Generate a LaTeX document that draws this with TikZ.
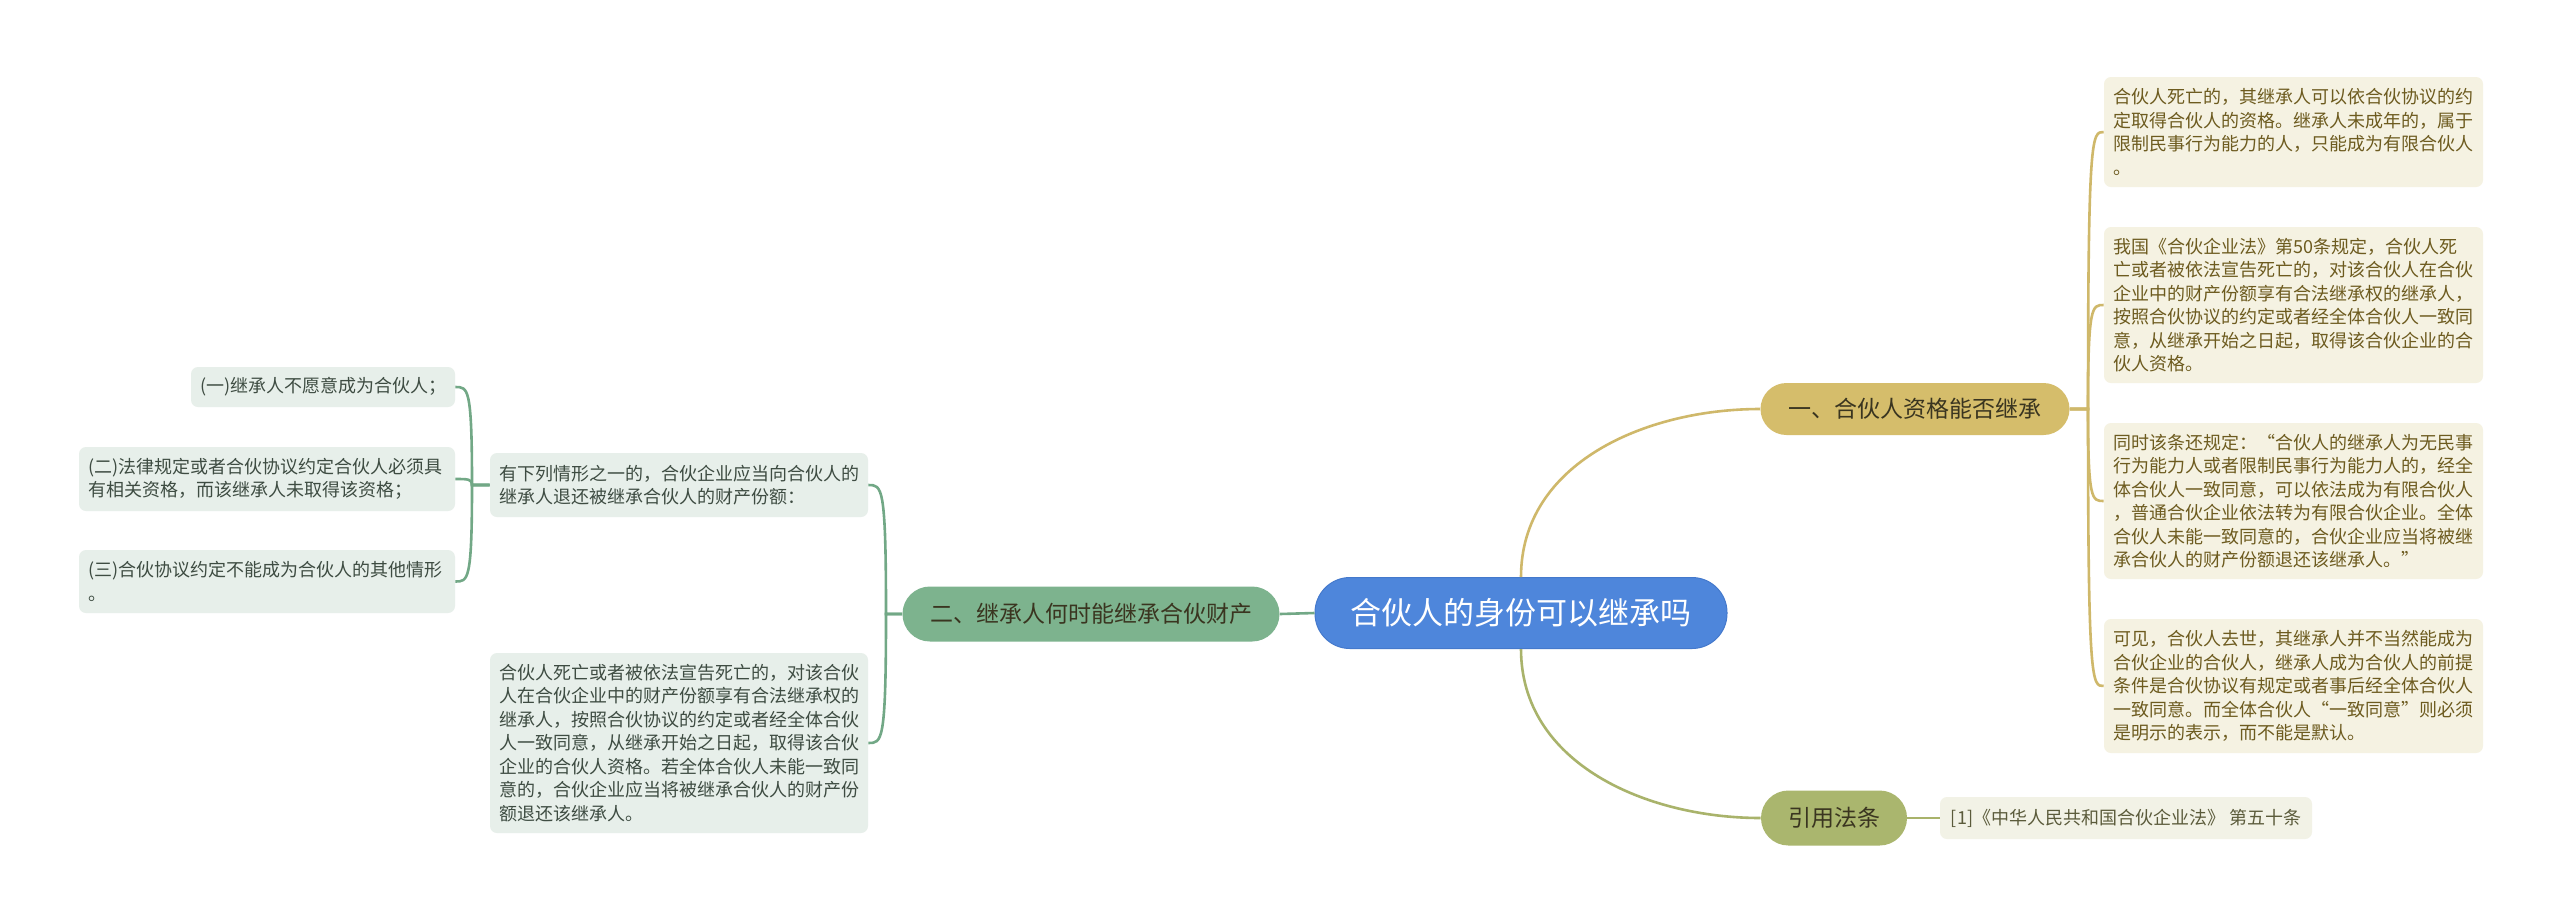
\documentclass[tikz,border=0pt]{standalone}
\usepackage{fontspec}
\setmainfont{Noto Sans CJK SC}
\usetikzlibrary{calc}
\definecolor{cblue}{HTML}{4E86DB}
\definecolor{cblueb}{HTML}{4479CC}
\definecolor{bgold}{HTML}{D5BD6B}
\definecolor{bolive}{HTML}{AAB66E}
\definecolor{bgreen}{HTML}{7DB38E}
\definecolor{rfill}{HTML}{F5F2E2}
\definecolor{rtext}{HTML}{6D5B1F}
\definecolor{reffill}{HTML}{F2F2E6}
\definecolor{reftext}{HTML}{5B5B3B}
\definecolor{lfill}{HTML}{E7EFEA}
\definecolor{ltext}{HTML}{3E4C42}
\definecolor{lgold}{HTML}{CFB86A}
\definecolor{lolive}{HTML}{A9B36B}
\definecolor{lgreen}{HTML}{72A886}
\definecolor{btext}{HTML}{3A3520}
\begin{document}
\begin{tikzpicture}[x=0.5pt,y=-0.5pt,
  leafbox/.style={rounded corners=3.5pt, inner xsep=4.5pt, inner ysep=0pt, align=left,
    font=\fontsize{9}{11.75}\selectfont, anchor=center},
  rleaf/.style={leafbox, fill=rfill, text=rtext, text width=180.5pt},
  lleaf/.style={leafbox, fill=lfill, text=ltext},
  branchbox/.style={inner sep=0pt, font=\fontsize{11.5}{13}\selectfont, text=btext, anchor=center},
  goldline/.style={draw=lgold, line width=1.3pt},
  oliveline/.style={draw=lolive, line width=1.3pt},
  greenline/.style={draw=lgreen, line width=1.3pt}
]
\fill[white] (0,0) rectangle (2560,923);
\useasboundingbox (0,0) rectangle (2560,923);

% central node
\node[fill=cblue, draw=cblueb, line width=0.5pt, rounded corners=17.5pt, minimum width=206pt, minimum height=35.5pt,
  inner sep=0pt, text=white, font=\fontsize{15.5}{17}\selectfont] (C) at (1521,613) {合伙人的身份可以继承吗};

% branches
\node[branchbox, fill=bgold, rounded corners=13pt, minimum width=154.5pt, minimum height=26pt] (B1) at (1915,409) {一、合伙人资格能否继承};
\node[branchbox, fill=bolive, rounded corners=13.7pt, minimum width=73pt, minimum height=27.5pt] (B3) at (1834,818) {引用法条};
\node[branchbox, fill=bgreen, rounded corners=13.7pt, minimum width=188.5pt, minimum height=27.5pt] (B2) at (1091,614) {二、继承人何时能继承合伙财产};

% right leaves
\node[rleaf, minimum height=55pt] (R1) at (2293.5,132) {合伙人死亡的，其继承人可以依合伙协议的约\\定取得合伙人的资格。继承人未成年的，属于\\限制民事行为能力的人，只能成为有限合伙人\\。};
\node[rleaf, minimum height=78pt] (R2) at (2293.5,305) {我国《合伙企业法》第50条规定，合伙人死\\亡或者被依法宣告死亡的，对该合伙人在合伙\\企业中的财产份额享有合法继承权的继承人，\\按照合伙协议的约定或者经全体合伙人一致同\\意，从继承开始之日起，取得该合伙企业的合\\伙人资格。};
\node[rleaf, minimum height=78pt] (R3) at (2293.5,501) {同时该条还规定：“合伙人的继承人为无民事\\行为能力人或者限制民事行为能力人的，经全\\体合伙人一致同意，可以依法成为有限合伙人\\，普通合伙企业依法转为有限合伙企业。全体\\合伙人未能一致同意的，合伙企业应当将被继\\承合伙人的财产份额退还该继承人。”};
\node[rleaf, minimum height=67pt] (R4) at (2293.5,686) {可见，合伙人去世，其继承人并不当然能成为\\合伙企业的合伙人，继承人成为合伙人的前提\\条件是合伙协议有规定或者事后经全体合伙人\\一致同意。而全体合伙人“一致同意”则必须\\是明示的表示，而不能是默认。};
\node[leafbox, fill=reffill, text=reftext, align=center, minimum width=186pt, minimum height=21pt] (Ref) at (2126,818) {[1]《中华人民共和国合伙企业法》 第五十条};

% left leaves
\node[lleaf, text width=180pt, minimum height=32pt] (La) at (679,485) {有下列情形之一的，合伙企业应当向合伙人的\\继承人退还被继承合伙人的财产份额：};
\node[lleaf, text width=180pt, minimum height=90pt] (Lb) at (679,743) {合伙人死亡或者被依法宣告死亡的，对该合伙\\人在合伙企业中的财产份额享有合法继承权的\\继承人，按照合伙协议的约定或者经全体合伙\\人一致同意，从继承开始之日起，取得该合伙\\企业的合伙人资格。若全体合伙人未能一致同\\意的，合伙企业应当将被继承合伙人的财产份\\额退还该继承人。};
\node[lleaf, text width=123pt, minimum height=20pt] (Lc1) at (323,387) {(一)继承人不愿意成为合伙人；};
\node[lleaf, text width=179pt, minimum height=32pt] (Lc2) at (267,479) {(二)法律规定或者合伙协议约定合伙人必须具\\有相关资格，而该继承人未取得该资格；};
\node[lleaf, text width=179pt, minimum height=31.5pt] (Lc3) at (267,581.5) {(三)合伙协议约定不能成为合伙人的其他情形\\。};

% junction coordinates
\coordinate (jR) at (2088,409);
\coordinate (jL) at (886,614);
\coordinate (jLL) at (472,485);

% central connectors
\draw[goldline] (C.north) to[out=90,in=180] (B1.west);
\draw[oliveline] (C.south) to[out=-90,in=180] (B3.west);
\draw[greenline] (C.west) -- (B2.east);
\draw[oliveline] (B3.east) -- (Ref.west);

% right leaf connectors
\foreach \n in {R1,R2,R3,R4}{
  \draw[goldline] (B1.east) -- (jR) .. controls (jR |- \n.west) and ($(jR |- \n.west)+(4,0)$) .. (\n.west);
}
% left connectors
\foreach \n in {La,Lb}{
  \draw[greenline] (B2.west) -- (jL) .. controls (jL |- \n.east) and ($(jL |- \n.east)+(-4,0)$) .. (\n.east);
}
\foreach \n in {Lc1,Lc2,Lc3}{
  \draw[greenline] (La.west) -- (jLL) .. controls (jLL |- \n.east) and ($(jLL |- \n.east)+(-4,0)$) .. (\n.east);
}
\end{tikzpicture}
\end{document}
